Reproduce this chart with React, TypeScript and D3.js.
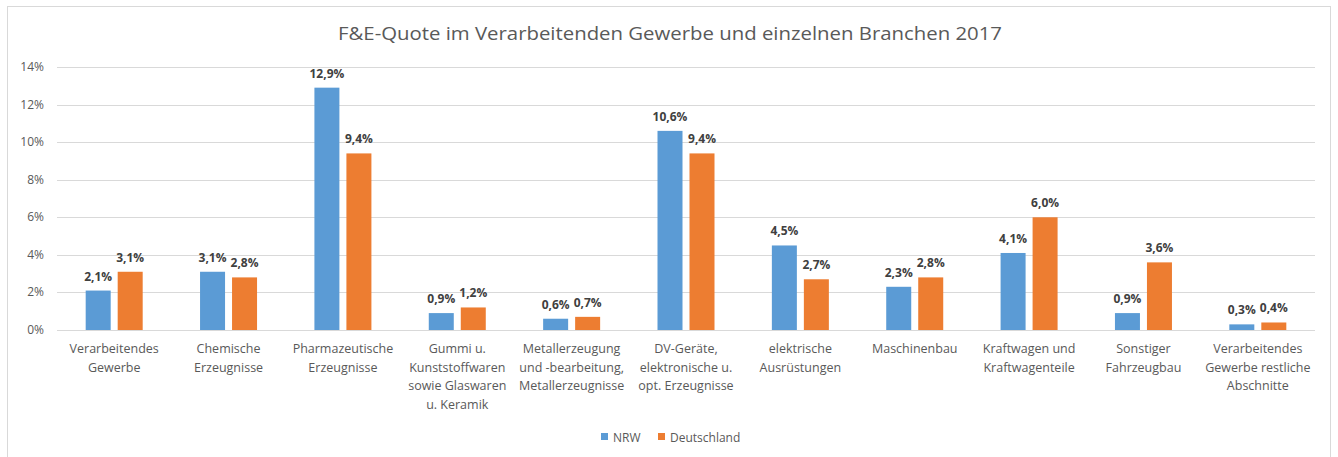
import React from "react";
import * as d3 from "d3";

const categories: string[][] = [
  ["Verarbeitendes", "Gewerbe"],
  ["Chemische", "Erzeugnisse"],
  ["Pharmazeutische", "Erzeugnisse"],
  ["Gummi u.", "Kunststoffwaren", "sowie Glaswaren", "u. Keramik"],
  ["Metallerzeugung", "und -bearbeitung,", "Metallerzeugnisse"],
  ["DV-Geräte,", "elektronische u.", "opt. Erzeugnisse"],
  ["elektrische", "Ausrüstungen"],
  ["Maschinenbau"],
  ["Kraftwagen und", "Kraftwagenteile"],
  ["Sonstiger", "Fahrzeugbau"],
  ["Verarbeitendes", "Gewerbe restliche", "Abschnitte"],
];
const nrw: number[] = [2.1, 3.1, 12.9, 0.9, 0.6, 10.6, 4.5, 2.3, 4.1, 0.9, 0.3];
const deutschland: number[] = [3.1, 2.8, 9.4, 1.2, 0.7, 9.4, 2.7, 2.8, 6.0, 3.6, 0.4];
const seriesNames = ["NRW", "Deutschland"];
const yTicks = [0, 2, 4, 6, 8, 10, 12, 14];
const title = "F&E-Quote im Verarbeitenden Gewerbe und einzelnen Branchen 2017";

const W = 1338;
const H = 457;
const colors = ["#5B9BD5", "#ED7D31"];
const FONT = "'Open Sans', sans-serif";

export default function App() {
  const left = 57;
  const right = 1315;
  const top = 67;
  const bottom = 330;
  const x = d3
    .scaleBand<number>()
    .domain(categories.map((_, i) => i))
    .range([left, right])
    .paddingInner(0)
    .paddingOuter(0);
  const y = d3.scaleLinear().domain([0, 14]).range([bottom, top]);
  const series = [nrw, deutschland];
  const fmt = (v: number) => v.toFixed(1).replace(".", ",") + "%";

  return (
    <svg
      width={W}
      height={H}
      style={{ position: "absolute", left: 0, top: 0, display: "block" }}
      fontFamily={FONT}
    >
      <rect x={0} y={0} width={W} height={H} fill="#fff" />
      <rect x={7.5} y={6.5} width={1323} height={470} fill="#fff" stroke="#d9d9d9" strokeWidth={1} />
      <text
        x={670}
        y={40}
        textAnchor="middle"
        fontSize={19}
        fill="#595959"
        textLength={664}
        lengthAdjust="spacingAndGlyphs"
      >
        {title}
      </text>
      {yTicks.map((t) => (
        <g key={t}>
          <line x1={left} x2={right} y1={Math.round(y(t)) + 0.5} y2={Math.round(y(t)) + 0.5} stroke="#d9d9d9" strokeWidth={1} />
          <text x={44} y={y(t) + 4} textAnchor="end" fontSize={12} fill="#595959">
            {t + "%"}
          </text>
        </g>
      ))}
      {categories.map((lines, i) => {
        const c = (x(i) as number) + x.bandwidth() / 2;
        const inner = d3
          .scaleBand<number>()
          .domain([0, 1])
          .range([c - 28.5, c + 28.5])
          .paddingInner(0.21875)
          .paddingOuter(0);
        return (
          <g key={i}>
            {series.map((s, j) => {
              const v = s[i];
              const bx = inner(j) as number;
              return (
                <g key={j}>
                  <rect x={bx} y={y(v)} width={inner.bandwidth()} height={y(0) - y(v)} fill={colors[j]} />
                  <text
                    x={bx + inner.bandwidth() / 2}
                    y={y(v) - 10}
                    textAnchor="middle"
                    fontSize={12}
                    fontWeight="bold"
                    fill="#404040"
                  >
                    {fmt(v)}
                  </text>
                </g>
              );
            })}
            <text x={c} textAnchor="middle" fontSize={12.5} fill="#595959">
              {lines.map((l, k) => (
                <tspan key={k} x={c} y={353 + k * 18.7}>
                  {l}
                </tspan>
              ))}
            </text>
          </g>
        );
      })}
      <g>
        <rect x={601} y={433} width={7} height={7} fill={colors[0]} />
        <text x={613} y={441.5} fontSize={12} fill="#595959">
          {seriesNames[0]}
        </text>
        <rect x={658} y={433} width={7} height={7} fill={colors[1]} />
        <text x={670} y={441.5} fontSize={12} fill="#595959">
          {seriesNames[1]}
        </text>
      </g>
    </svg>
  );
}
